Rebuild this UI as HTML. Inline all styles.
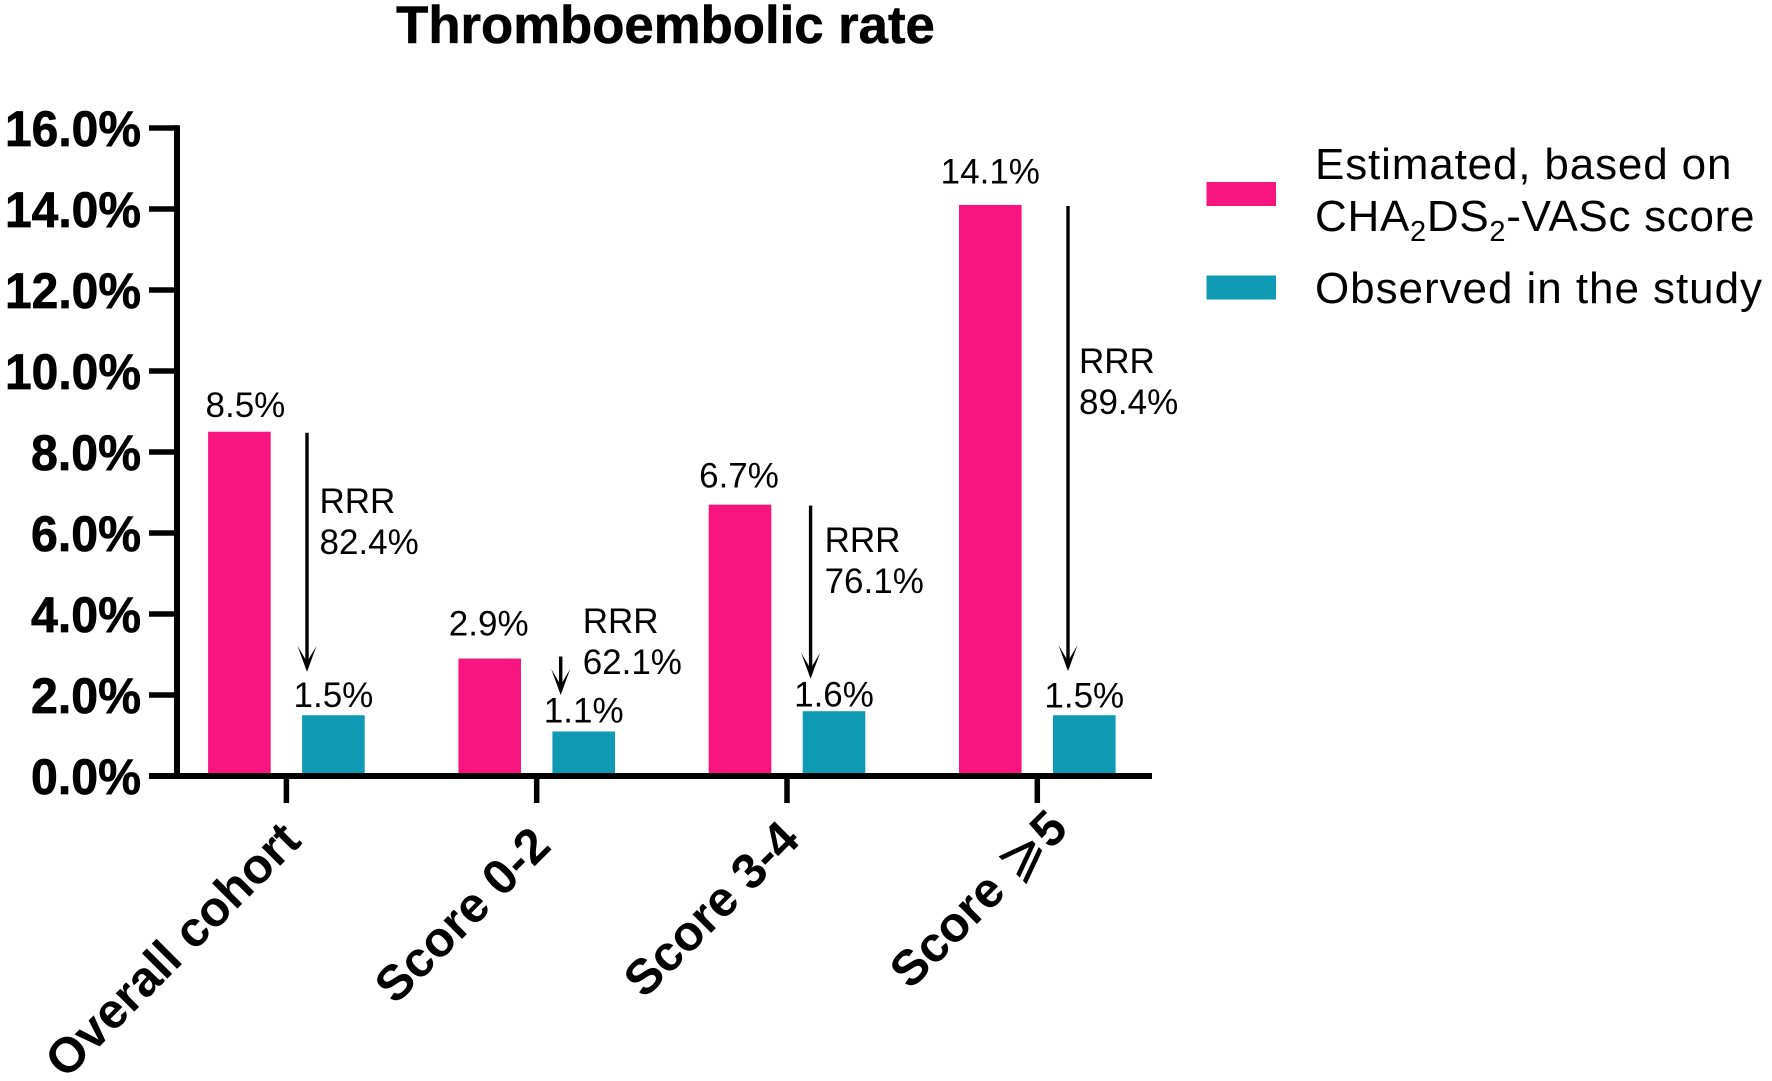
<!DOCTYPE html>
<html lang="en">
<head>
<meta charset="utf-8">
<title>Thromboembolic rate</title>
<style>
html,body{margin:0;padding:0;background:#fff;}
svg{display:block;}
text{font-family:"Liberation Sans",Arial,sans-serif;fill:#000;}
</style>
</head>
<body>
<svg id="chart" xmlns="http://www.w3.org/2000/svg" width="1772" height="1081" viewBox="0 0 1772 1081">
  <rect width="1772" height="1081" fill="#fff"/>
  <text x="665.5" y="43" text-anchor="middle" font-size="52.7" font-weight="700" stroke="#000" stroke-width="0.6">Thromboembolic rate</text>
  <g id="plot"></g>
  <g>
    <rect x="1206.5" y="182" width="69.5" height="24" fill="#F9157F"/>
    <text x="1315" y="179" font-size="44" letter-spacing="0.85">Estimated, based on</text>
    <text x="1315" y="231" font-size="44" letter-spacing="0.7">CHA<tspan font-size="29" dy="10">2</tspan><tspan dy="-10">DS</tspan><tspan font-size="29" dy="10">2</tspan><tspan dy="-10">-VASc score</tspan></text>
    <rect x="1206.5" y="275.5" width="69.5" height="24" fill="#0F9AB3"/>
    <text x="1315" y="303" font-size="44" letter-spacing="0.95">Observed in the study</text>
  </g>
</svg>
<script>
// Chart data
const categories = ['Overall cohort', 'Score 0-2', 'Score 3-4', 'Score \u2A7E5'];
const estimated = [8.5, 2.9, 6.7, 14.1];
const observed = [1.5, 1.1, 1.6, 1.5];
const rrrValues = [82.4, 62.1, 76.1, 89.4];
const yTicks = [0, 2, 4, 6, 8, 10, 12, 14, 16];
// Arrow ends and RRR label heights, in axis units
const arrowTipValues = [2.57, 2.0, 2.4, 2.59];
const rrrLabelValues = [6.49, 3.53, 5.53, 9.95];

// Axis functions
const Y0 = 776, PX_PER_UNIT = 40.5;
function yScale(v) { return Y0 - v * PX_PER_UNIT; }
const X0 = 286.4, GROUP_STEP = 250.3;
function xScale(i) { return X0 + i * GROUP_STEP; }

const BAR_W = 62.6, BAR_OFFSET = 47;
const PINK = '#F9157F', TEAL = '#0F9AB3';
const NS = 'http://www.w3.org/2000/svg';
const plot = document.getElementById('plot');

function make(tag, attrs, text) {
  const n = document.createElementNS(NS, tag);
  for (const k in attrs) n.setAttribute(k, attrs[k]);
  if (text !== undefined) n.textContent = text;
  plot.appendChild(n);
  return n;
}

// Layout tweaks for annotations (pixels)
const estLabelLift = [15, 23, 17, 21.5];
const obsLabelLift = [8.5, 9, 4.5, 8];
const estLabelShift = [6, -1, -1, 0];
const arrowShift = [20.6, 24, 23.6, 30.7];
const rrrShift = [12.5, 22, 14, 11];
const xLabelEnd = [[303, 843], [553, 848], [802, 842], [1070, 831]];

// Bars
categories.forEach(function (cat, i) {
  const cx = xScale(i);
  const slug = cat.toLowerCase().replace(/[^a-z0-9]+/g, '-');

  const est = make('rect', {x: cx - BAR_OFFSET - BAR_W / 2, y: yScale(estimated[i]), width: BAR_W, height: Y0 - yScale(estimated[i]), fill: PINK});
  
  

  const obs = make('rect', {x: cx + BAR_OFFSET - BAR_W / 2, y: yScale(observed[i]), width: BAR_W, height: Y0 - yScale(observed[i]), fill: TEAL});
  
  

  const estLabel = make('text', {x: cx - BAR_OFFSET + estLabelShift[i], y: yScale(estimated[i]) - estLabelLift[i], 'text-anchor': 'middle', 'font-size': 35}, estimated[i].toFixed(1) + '%');
  
  

  const obsLabel = make('text', {x: cx + BAR_OFFSET, y: yScale(observed[i]) - obsLabelLift[i], 'text-anchor': 'middle', 'font-size': 35}, observed[i].toFixed(1) + '%');
  
  

  // Reduction arrow
  const ax = cx + arrowShift[i];
  const top = yScale(estimated[i]) + 1;
  const tip = yScale(arrowTipValues[i]);
  const shaft = make('line', {x1: ax, y1: i === 1 ? yScale(2.95) : top, x2: ax, y2: tip - 4, stroke: '#000', 'stroke-width': 3.4});
  
  
  const head = make('path', {d: 'M' + (ax - 9.5) + ' ' + (tip - 26) + ' L' + ax + ' ' + tip + ' L' + (ax + 9.5) + ' ' + (tip - 26) + ' L' + ax + ' ' + (tip - 10) + ' Z', fill: '#000'});
  
  

  const rx = ax + rrrShift[i];
  const ry = yScale(rrrLabelValues[i]);
  const rrrA = make('text', {x: rx, y: ry, 'font-size': 35}, 'RRR');
  
  
  const rrrB = make('text', {x: rx, y: ry + 41, 'font-size': 35}, rrrValues[i].toFixed(1) + '%');
  
  

  // X tick + rotated label
  const tick = make('line', {x1: cx, y1: Y0, x2: cx, y2: 803, stroke: '#000', 'stroke-width': 5.5});
  
  
  const ex = xLabelEnd[i][0], ey = xLabelEnd[i][1];
  const xl = make('text', {x: ex, y: ey, 'text-anchor': 'end', 'font-size': 49.5, 'font-weight': 700, transform: 'rotate(-45 ' + ex + ' ' + ey + ')'});
  
  
  cat.split(/(\u2A7E)/).forEach(function (part) {
    if (!part) return;
    const span = document.createElementNS(NS, 'tspan');
    span.textContent = part;
    if (part === '\u2A7E') {
      span.setAttribute('font-weight', '400');
      span.setAttribute('font-size', '56');
    }
    xl.appendChild(span);
  });
});

// Y axis
yTicks.forEach(function (t) {
  const tick = make('line', {x1: 149, y1: yScale(t), x2: 177, y2: yScale(t), stroke: '#000', 'stroke-width': 5.5});
  
  
  const lab = make('text', {x: 141, y: yScale(t) + 18, 'text-anchor': 'end', 'font-size': 50, 'font-weight': 700, stroke: '#000', 'stroke-width': 0.7, textLength: t >= 10 ? 136 : 110, lengthAdjust: 'spacingAndGlyphs'}, t.toFixed(1) + '%');
  
  
});

const yAxis = make('line', {x1: 177, y1: yScale(16) - 2.75, x2: 177, y2: Y0 + 2.75, stroke: '#000', 'stroke-width': 6});



const xAxis = make('line', {x1: 149, y1: Y0, x2: 1152, y2: Y0, stroke: '#000', 'stroke-width': 6});


</script>
</body>
</html>
